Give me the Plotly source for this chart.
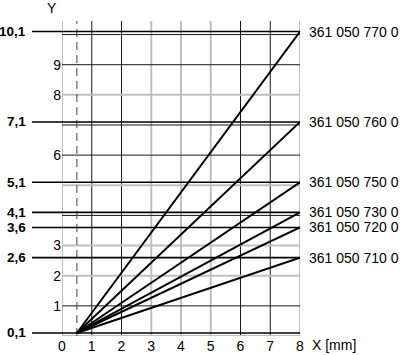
import plotly.graph_objects as go

# ---- data ----
levels = [10.1, 7.1, 5.1, 4.1, 3.6, 2.6]
level_labels = ["10,1", "7,1", "5,1", "4,1", "3,6", "2,6"]
part_numbers = ["361 050 770 0", "361 050 760 0", "361 050 750 0",
                "361 050 730 0", "361 050 720 0", "361 050 710 0"]
base_level = 0.1
base_label = "0,1"
start_x = 0.5
end_x = 8
x_ticks = [0, 1, 2, 3, 4, 5, 6, 7, 8]
y_ticks = [1, 2, 3, 6, 8, 9]
x_grid_gray = [0, 3, 4, 5, 8]
x_grid_black = [1, 2, 6, 7]
y_grid_gray = [0, 2, 3, 5, 8]
y_grid_black = [1, 4, 6, 7, 9, 10]

FONT = "Liberation Sans, Arial, sans-serif"
YMAX = 10.45

fig = go.Figure()

# characteristic lines
for lv in levels:
    fig.add_trace(go.Scatter(x=[start_x, end_x], y=[base_level, lv], mode="lines",
                             line=dict(color="black", width=2), showlegend=False,
                             hoverinfo="skip"))

shapes = []
# grid
for gx in x_grid_gray:
    shapes.append(dict(type="line", xref="x", yref="y", x0=gx, x1=gx, y0=0, y1=YMAX,
                       line=dict(color="#c0c0c0", width=2), layer="below"))
for gx in x_grid_black:
    shapes.append(dict(type="line", xref="x", yref="y", x0=gx, x1=gx, y0=0, y1=YMAX,
                       line=dict(color="#1a1a1a", width=1), layer="below"))
for gy in y_grid_gray:
    shapes.append(dict(type="line", xref="x", yref="y", x0=0, x1=8, y0=gy, y1=gy,
                       line=dict(color="#c0c0c0", width=2), layer="below"))
for gy in y_grid_black:
    shapes.append(dict(type="line", xref="x", yref="y", x0=0, x1=8, y0=gy, y1=gy,
                       line=dict(color="#1a1a1a", width=1), layer="below"))
# dashed start line
shapes.append(dict(type="line", xref="x", yref="y", x0=start_x, x1=start_x, y0=0, y1=YMAX,
                   line=dict(color="#444", width=1, dash="8px,5px"), layer="below"))

# level lines extending to the left labels
for lv in levels + [base_level]:
    shapes.append(dict(type="line", xref="paper", yref="y", x0=-0.126, x1=1.0, y0=lv, y1=lv,
                       line=dict(color="black", width=1.6)))

annotations = []
for lv, lab in zip(levels + [base_level], level_labels + [base_label]):
    annotations.append(dict(xref="paper", yref="y", x=-0.143, y=lv, text="<b>" + lab + "</b>",
                            showarrow=False, xanchor="right", yanchor="middle",
                            font=dict(family=FONT, size=13.5, color="black")))
for lv, pn in zip(levels, part_numbers):
    annotations.append(dict(xref="paper", yref="y", x=1.029, y=lv, text=pn,
                            showarrow=False, xanchor="left", yanchor="middle",
                            font=dict(family=FONT, size=14, color="black")))
annotations.append(dict(xref="paper", yref="paper", x=-0.042, y=1.041, text="Y",
                        showarrow=False, xanchor="center", yanchor="middle",
                        font=dict(family=FONT, size=14, color="black")))
annotations.append(dict(xref="paper", yref="paper", x=1.042, y=-0.029, text="X [mm]",
                        showarrow=False, xanchor="left", yanchor="middle",
                        font=dict(family=FONT, size=14, color="black")))

fig.update_layout(
    width=400, height=355,
    margin=dict(l=62, r=100, t=21, b=19, autoexpand=False),
    paper_bgcolor="white", plot_bgcolor="white",
    shapes=shapes, annotations=annotations,
    font=dict(family=FONT, size=14, color="black"),
    xaxis=dict(range=[0, 8], tickvals=x_ticks, ticktext=[str(v) for v in x_ticks],
               showgrid=False, zeroline=False, showline=False, ticks="",
               fixedrange=True, automargin=False),
    yaxis=dict(range=[0, YMAX], tickvals=y_ticks, ticktext=[str(v) for v in y_ticks],
               showgrid=False, zeroline=False, showline=False, ticks="",
               fixedrange=True, automargin=False),
)

# remove the default page margin so the figure fills the 400x355 window exactly
fig.write_html("out.html",
               config={"displayModeBar": False, "staticPlot": True},
               post_script="document.body.style.margin='0px';document.body.style.overflow='hidden';")
